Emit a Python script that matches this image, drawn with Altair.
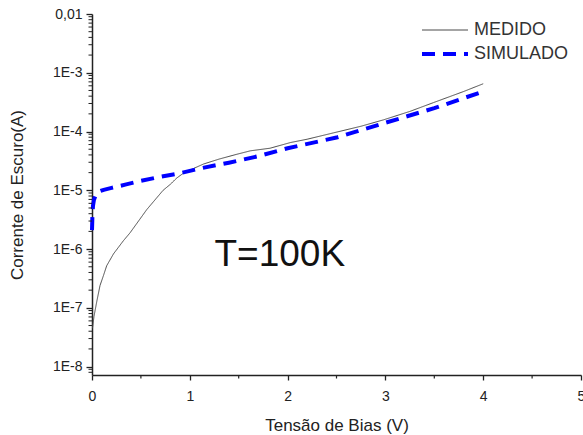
import altair as alt
import pandas as pd

FONT = "Liberation Sans"

# Corrente de escuro medida a 100 K
tensao_medido = [0.005, 0.02, 0.048, 0.082, 0.116, 0.15, 0.22, 0.32, 0.39, 0.56,
                 0.727, 0.80, 0.867, 0.934, 1.0, 1.14, 1.3, 1.48, 1.62, 1.82,
                 2.03, 2.2, 2.47, 2.75, 2.98, 3.25, 3.49, 3.8, 4.0]
corrente_medido = [4.5e-8, 7.1e-8, 1.26e-7, 2.4e-7, 3.5e-7, 5.2e-7, 8.3e-7, 1.38e-6, 1.9e-6, 4.7e-6,
                   1.0e-5, 1.26e-5, 1.62e-5, 1.95e-5, 2.2e-5, 2.8e-5, 3.4e-5, 4.1e-5, 4.7e-5, 5.2e-5,
                   6.5e-5, 7.4e-5, 9.5e-5, 1.23e-4, 1.58e-4, 2.2e-4, 3.1e-4, 4.8e-4, 6.5e-4]

# Corrente de escuro simulada
tensao_simulado = [0.0, 0.005, 0.01, 0.02, 0.04, 0.07, 0.12, 0.2, 0.35, 0.5,
                   0.7, 0.9, 1.1, 1.4, 1.7, 2.0, 2.5, 3.0, 3.5, 4.0]
corrente_simulado = [2.1e-6, 4.0e-6, 5.4e-6, 6.9e-6, 8.5e-6, 9.5e-6, 1.02e-5, 1.1e-5, 1.26e-5, 1.45e-5,
                     1.7e-5, 1.95e-5, 2.35e-5, 2.95e-5, 3.8e-5, 5.2e-5, 7.9e-5, 1.41e-4, 2.5e-4, 4.8e-4]

series = ["MEDIDO", "SIMULADO"]
anotacao = ["T=100K"]

# Ticks dos eixos
x_major = [0, 1, 2, 3, 4, 5]
x_minor = [0.5, 1.5, 2.5, 3.5, 4.5]
y_major = [1e-8, 1e-7, 1e-6, 1e-5, 1e-4, 1e-3, 1e-2]
y_minor = [m * 10.0 ** e for e in range(-9, -2) for m in range(2, 10)
           if 7.2e-9 <= m * 10.0 ** e <= 1e-2]

W, H = 489, 361

df = pd.concat([
    pd.DataFrame({"tensao": tensao_medido, "corrente": corrente_medido, "serie": series[0]}),
    pd.DataFrame({"tensao": tensao_simulado, "corrente": corrente_simulado, "serie": series[1]}),
], ignore_index=True)

df_txt = pd.DataFrame({"tensao": [1.92], "corrente": [5.1e-7], "rotulo": anotacao})
df_ty = pd.DataFrame({"corrente": y_minor})
df_tx = pd.DataFrame({"tensao": x_minor})

x_scale = alt.Scale(domain=[0, 5], nice=False, zero=False)
y_scale = alt.Scale(type="log", domain=[7.2e-9, 1e-2], nice=False)

axis_style = dict(domainColor="#222", domainWidth=1.5, tickColor="#222", grid=False,
                  labelFont=FONT, labelColor="#222", titleFont=FONT, titleColor="#222",
                  titleFontWeight="normal")

eixo_x = alt.Axis(orient="bottom", values=x_major, format="d", tickSize=5, tickWidth=1.3,
                  labelFontSize=14, labelPadding=9, labelFlush=False,
                  title="Tensão de Bias (V)", titleFontSize=17, titlePadding=14,
                  **axis_style)
eixo_y = alt.Axis(orient="left", values=y_major, tickSize=6, tickWidth=1.3,
                  labelExpr="datum.value >= 0.01 ? '0,01' : '1E' + round(log(datum.value) / LN10)",
                  labelFontSize=14, labelPadding=4, labelFlush=False,
                  title="Corrente de Escuro(A)", titleFontSize=17, titlePadding=26,
                  **axis_style)

X = alt.X("tensao:Q", scale=x_scale, axis=eixo_x)
Y = alt.Y("corrente:Q", scale=y_scale, axis=eixo_y)

legenda = alt.Legend(orient="none", legendX=328, legendY=4, title=None,
                     symbolType="stroke", symbolSize=2116, clipHeight=24,
                     rowPadding=0, padding=0, labelOffset=4, labelFont=FONT,
                     labelFontSize=18, labelColor="#333")

linhas = alt.Chart(df).mark_line().encode(
    x=X,
    y=Y,
    color=alt.Color("serie:N", scale=alt.Scale(domain=series, range=["#4a4a4a", "#0000ff"]),
                    legend=legenda),
    strokeDash=alt.StrokeDash("serie:N", scale=alt.Scale(domain=series, range=[[1, 0], [13, 8]]),
                              legend=legenda),
    strokeWidth=alt.StrokeWidth("serie:N", scale=alt.Scale(domain=series, range=[1.0, 4]),
                                legend=legenda),
    order=alt.Order("tensao:Q"),
)

# Ticks menores dos eixos, posicionados pelas próprias escalas
ticks_y = alt.Chart(df_ty).mark_rule(color="#222", strokeWidth=1).encode(
    y=Y,
    x=alt.value(-3.5),
    x2=alt.value(0),
)
ticks_x = alt.Chart(df_tx).mark_rule(color="#222", strokeWidth=1.2).encode(
    x=X,
    y=alt.value(H),
    y2=alt.value(H + 3.5),
)

texto = alt.Chart(df_txt).mark_text(font=FONT, fontSize=37, color="#111",
                                    align="center", baseline="alphabetic").encode(
    x=X,
    y=Y,
    text="rotulo:N",
)

chart = alt.layer(linhas, ticks_y, ticks_x, texto).properties(
    width=W, height=H,
    autosize=alt.AutoSizeParams(type="none"),
    padding={"left": 92, "top": 14, "right": 2, "bottom": 60},
    background="white",
).configure_view(stroke=None, clip=False)

chart.save("out.html", embed_options={"renderer": "svg", "actions": False})
